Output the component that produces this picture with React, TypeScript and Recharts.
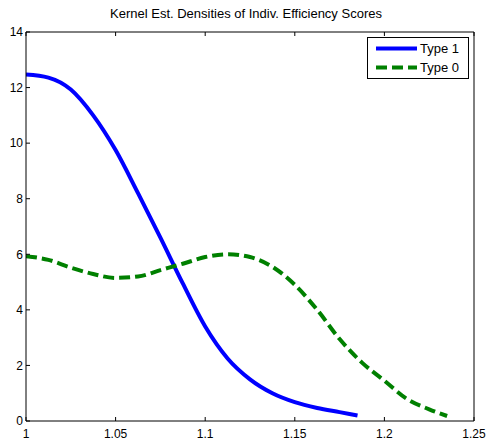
import { LineChart, Line, XAxis, YAxis, Legend } from "recharts";

// kernel density estimates
const type1X = [1, 1.0125, 1.025, 1.0375, 1.05, 1.0625, 1.075, 1.0875, 1.1, 1.1125, 1.125, 1.1375, 1.15, 1.1625, 1.175, 1.185];
const type1Density = [12.47, 12.36, 11.93, 11.0, 9.75, 8.2, 6.6, 4.95, 3.4, 2.25, 1.5, 1.0, 0.68, 0.47, 0.32, 0.2];

const type0X = [1, 1.0125, 1.025, 1.0375, 1.05, 1.0625, 1.075, 1.0875, 1.1, 1.1125, 1.125, 1.1375, 1.15, 1.1625, 1.175, 1.1875, 1.2, 1.2125, 1.225, 1.235];
const type0Density = [5.93, 5.8, 5.52, 5.29, 5.15, 5.2, 5.43, 5.66, 5.9, 6.0, 5.9, 5.55, 4.9, 4.0, 2.95, 2.1, 1.45, 0.8, 0.42, 0.18];

const xTicks = [1, 1.05, 1.1, 1.15, 1.2, 1.25];
const yTicks = [0, 2, 4, 6, 8, 10, 12, 14];

const series = [
  { name: "Type 1", color: "#0000ff", dash: undefined as string | undefined },
  { name: "Type 0", color: "#008000", dash: "11 5" },
];

const type1Data = type1X.map((x, i) => ({ x, y: type1Density[i] }));
const type0Data = type0X.map((x, i) => ({ x, y: type0Density[i] }));

const FONT = '"Liberation Sans", Arial, sans-serif';
const tickStyle = { fontSize: 12, fill: "#000", fontFamily: FONT };

function LegendBox() {
  return (
    <div
      style={{
        width: 100,
        height: 40,
        border: "1px solid #000",
        background: "#fff",
        fontFamily: FONT,
        fontSize: 13,
        color: "#000",
        boxSizing: "content-box",
      }}
    >
      {series.map((s, i) => (
        <div key={s.name} style={{ display: "flex", alignItems: "center", height: 19, marginTop: i === 0 ? 1 : 0 }}>
          <svg width={52} height={19} style={{ display: "block" }}>
            <line x1={8} x2={49} y1={9.5} y2={9.5} stroke={s.color} strokeWidth={4} strokeDasharray={s.dash} />
          </svg>
          <span>{s.name}</span>
        </div>
      ))}
    </div>
  );
}

export default function App() {
  return (
    <div style={{ position: "absolute", left: 0, top: 0, width: 488, height: 445, background: "#fff" }}>
      <div
        style={{
          position: "absolute",
          top: 6,
          left: 0,
          width: 492,
          textAlign: "center",
          fontFamily: FONT,
          fontSize: 13,
          lineHeight: "15px",
          color: "#000",
        }}
      >
        Kernel Est. Densities of Indiv. Efficiency Scores
      </div>
      <LineChart width={488} height={445} margin={{ top: 31, right: 13, bottom: 0, left: 0 }}>
        <XAxis
          xAxisId="bottom"
          type="number"
          dataKey="x"
          domain={[1, 1.25]}
          ticks={xTicks}
          allowDataOverflow
          height={24}
          tickSize={-4}
          tickMargin={12}
          stroke="#000"
          tick={tickStyle}
          interval={0}
        />
        <XAxis
          xAxisId="top"
          orientation="top"
          type="number"
          dataKey="x"
          domain={[1, 1.25]}
          ticks={xTicks}
          allowDataOverflow
          height={1}
          tickSize={-4}
          tickFormatter={() => ""}
          stroke="#000"
          interval={0}
        />
        <YAxis
          yAxisId="left"
          type="number"
          domain={[0, 14]}
          ticks={yTicks}
          width={26}
          tickSize={-4}
          tickMargin={7}
          stroke="#000"
          tick={tickStyle}
          interval={0}
        />
        <YAxis
          yAxisId="right"
          orientation="right"
          type="number"
          domain={[0, 14]}
          ticks={yTicks}
          width={1}
          tickSize={-4}
          tickFormatter={() => ""}
          stroke="#000"
          interval={0}
        />
        <Legend
          layout="horizontal"
          align="center"
          verticalAlign="middle"
          content={() => <LegendBox />}
          wrapperStyle={{ position: "absolute", top: 37, left: 367, width: 102 }}
        />
        <Line
          xAxisId="bottom"
          yAxisId="left"
          data={type1Data}
          dataKey="y"
          name={series[0].name}
          type="monotone"
          stroke={series[0].color}
          strokeWidth={4}
          dot={false}
          isAnimationActive={false}
        />
        <Line
          xAxisId="bottom"
          yAxisId="left"
          data={type0Data}
          dataKey="y"
          name={series[1].name}
          type="monotone"
          stroke={series[1].color}
          strokeWidth={4}
          strokeDasharray={series[1].dash}
          dot={false}
          isAnimationActive={false}
        />
      </LineChart>
    </div>
  );
}
